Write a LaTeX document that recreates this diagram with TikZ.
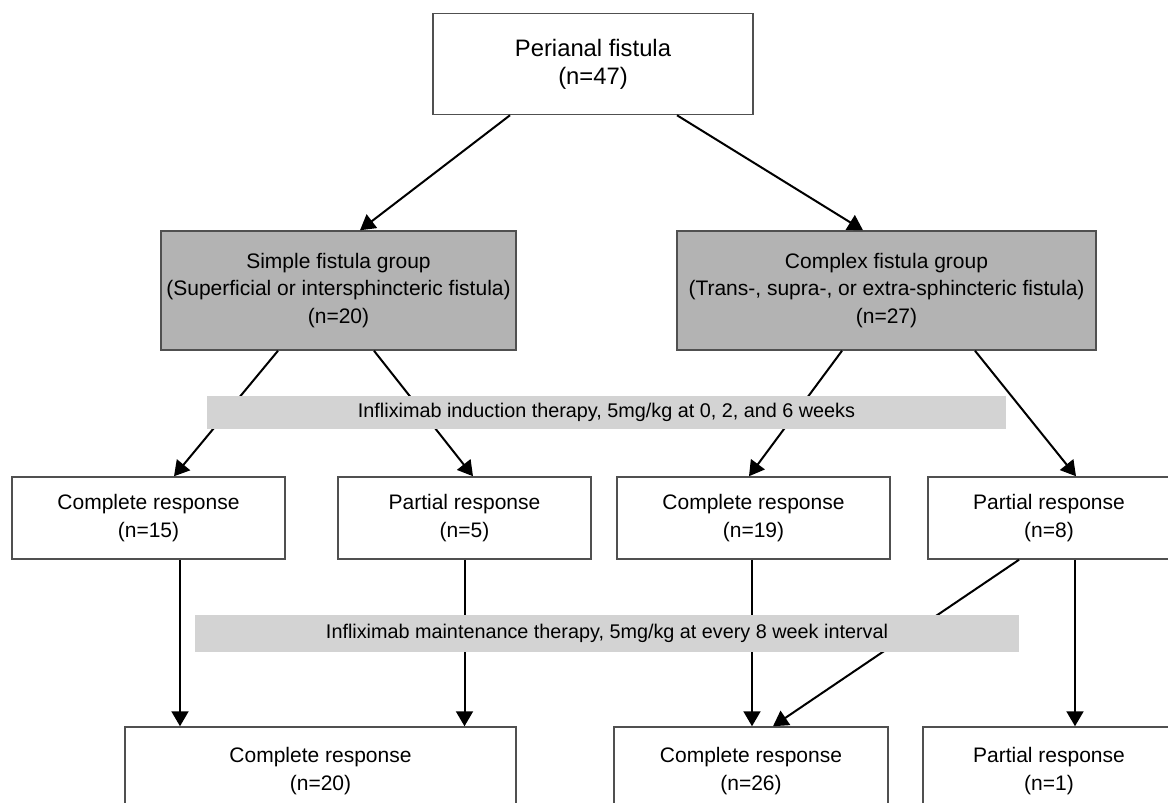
\documentclass[tikz,border=0pt]{standalone}
\usepackage{fontspec}
\setmainfont{Liberation Sans}
\usetikzlibrary{arrows.meta,calc}
\definecolor{boxgray}{HTML}{B3B3B3}
\definecolor{bandgray}{HTML}{D3D3D3}
\definecolor{edge}{HTML}{505050}
\begin{document}
\begin{tikzpicture}[x=1pt,y=-1pt,
  box/.style={draw=edge,line width=1.5pt,fill=white,align=center,inner sep=0pt,
    font=\fontsize{21}{27.5}\selectfont},
  topbox/.style={box,font=\fontsize{23.8}{28}\selectfont},
  grpbox/.style={box,fill=boxgray},
  band/.style={fill=bandgray,draw=none,inner sep=0pt,font=\fontsize{19.8}{24}\selectfont},
  arr/.style={line width=2pt,-{Triangle[length=15pt,width=17pt]}}]
\useasboundingbox (0,0) rectangle (1168,803);
\clip (0,0) rectangle (1168,803);
\fill[white] (0,0) rectangle (1168,803);
% nodes
\node[topbox,minimum width=320,minimum height=101] (top) at (593,64) {Perianal fistula\\(n=47)};
\node[grpbox,minimum width=355,minimum height=119] (simple) at (338.5,290.5) {Simple fistula group\\(Superficial or intersphincteric fistula)\\(n=20)};
\node[grpbox,minimum width=419,minimum height=119] (complex) at (886.5,290.5) {Complex fistula group\\(Trans-, supra-, or extra-sphincteric fistula)\\(n=27)};
\node[box,minimum width=273,minimum height=82] (cr1) at (148.5,518) {Complete response\\(n=15)};
\node[box,minimum width=253,minimum height=82] (pr1) at (464.5,518) {Partial response\\(n=5)};
\node[box,minimum width=273,minimum height=82] (cr2) at (753.5,518) {Complete response\\(n=19)};
\node[box,minimum width=242,minimum height=82] (pr2) at (1049,518) {Partial response\\(n=8)};
\node[box,minimum width=391,minimum height=88] (b1) at (320.5,771) {Complete response\\(n=20)};
\node[box,minimum width=274,minimum height=88] (b2) at (751,771) {Complete response\\(n=26)};
\node[box,minimum width=252,minimum height=88] (b3) at (1049,771) {Partial response\\(n=1)};
% arrows
\draw[arr] ([xshift=-83pt]top.south) -- ([xshift=21.5pt]simple.north);
\draw[arr] ([xshift=84pt]top.south) -- ([xshift=-23.5pt]complex.north);
\draw[arr] ([xshift=-60.5pt]simple.south) -- ([xshift=25.5pt]cr1.north);
\draw[arr] ([xshift=35.5pt]simple.south) -- ([xshift=8.5pt]pr1.north);
\draw[arr] ([xshift=-44.5pt]complex.south) -- ([xshift=-4.5pt]cr2.north);
\draw[arr] ([xshift=88.5pt]complex.south) -- ([xshift=27pt]pr2.north);
\draw[arr] ([xshift=31.5pt]cr1.south) -- ([xshift=31.5pt]cr1.south |- b1.north);
\draw[arr] (pr1.south) -- (pr1.south |- b1.north);
\draw[arr] ([xshift=-1.5pt]cr2.south) -- ([xshift=-1.5pt]cr2.south |- b2.north);
\draw[arr] ([xshift=26pt]pr2.south) -- ([xshift=26pt]pr2.south |- b3.north);
\draw[arr] ([xshift=-30pt]pr2.south) -- ([xshift=22pt]b2.north);
% bands
\node[band,minimum width=799,minimum height=33] (ind) at (606.5,412.5) {Infliximab induction therapy, 5mg/kg at 0, 2, and 6 weeks};
\node[band,minimum width=824,minimum height=37] (mnt) at (607,633.5) {Infliximab maintenance therapy, 5mg/kg at every 8 week interval};
\end{tikzpicture}
\end{document}
